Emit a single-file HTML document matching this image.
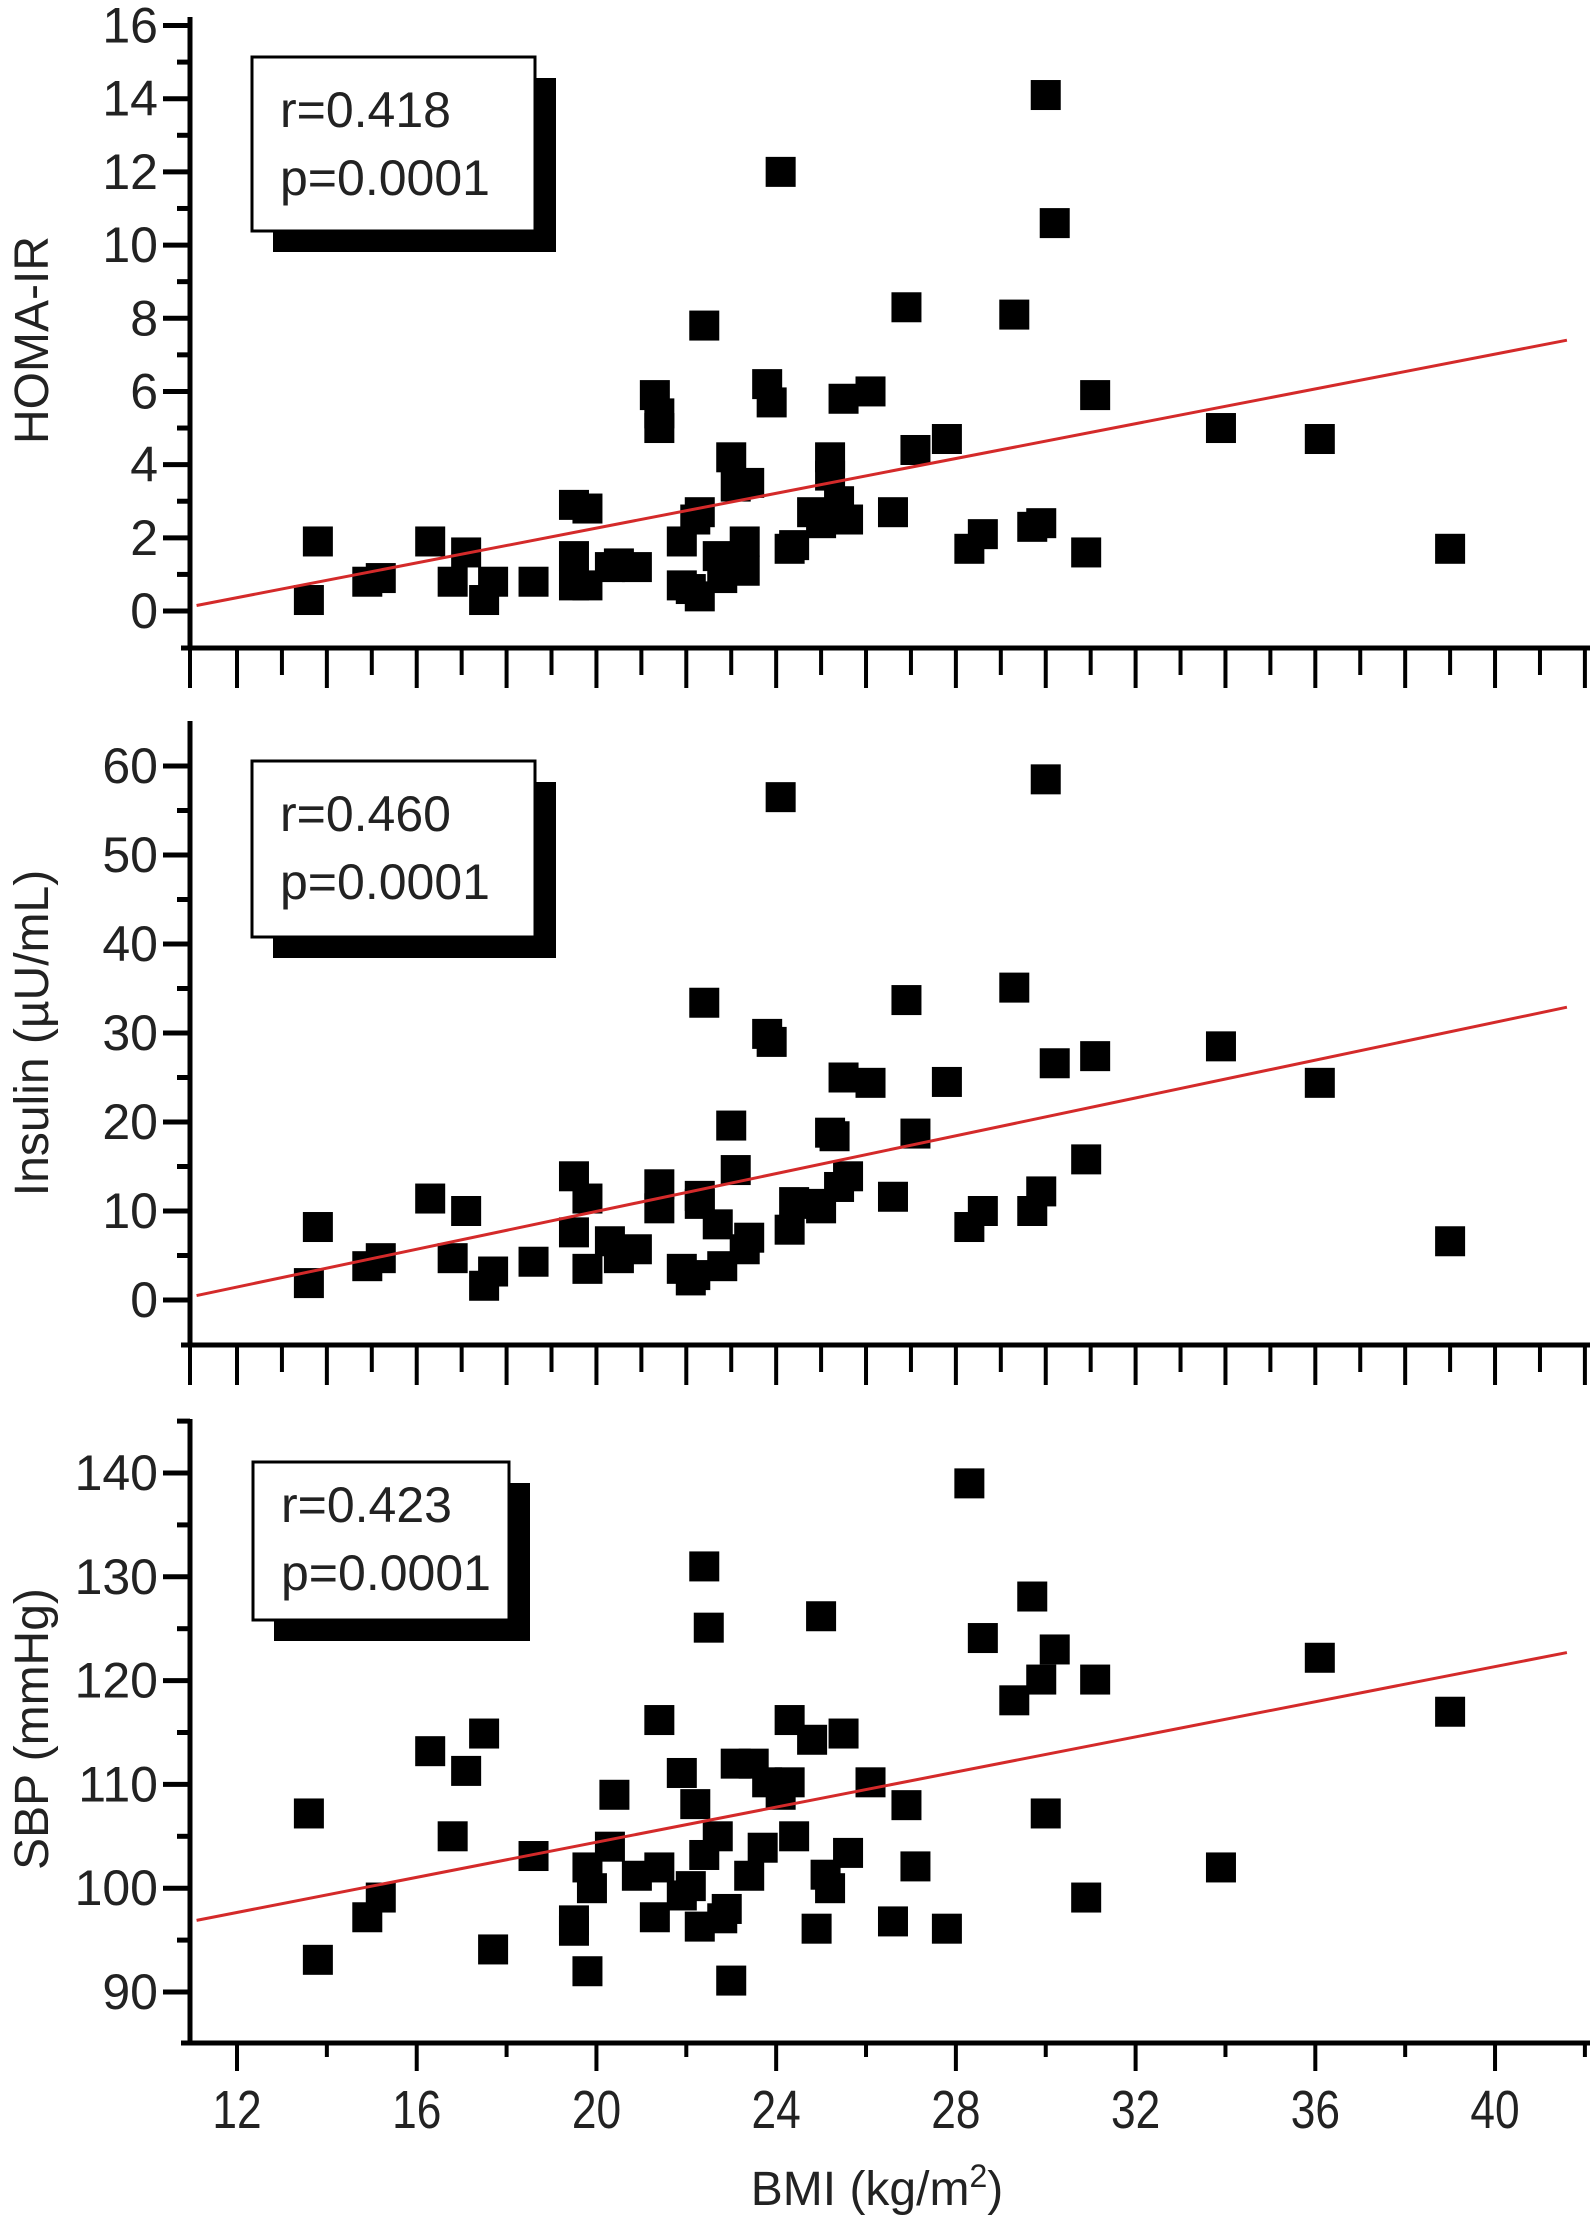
<!DOCTYPE html>
<html><head><meta charset="utf-8"><style>
html,body{margin:0;padding:0;background:#fff}
svg{display:block}
text{font-family:"Liberation Sans",Arial,sans-serif;fill:#222}
</style></head><body>
<svg id="chart" xmlns="http://www.w3.org/2000/svg" width="1590" height="2218" viewBox="0 0 1590 2218">
<text x="877" y="2205" font-size="48" text-anchor="middle">BMI (kg/m<tspan font-size="32" dy="-18">2</tspan><tspan dy="18">)</tspan></text>
</svg>
<script>
// ---- data ----
const homaBMI=[13.8,13.6,14.9,15.2,16.3,16.8,17.1,17.5,17.7,18.6,19.5,19.5,19.5,19.8,19.8,20.3,20.5,20.9,21.3,21.4,21.4,21.9,21.9,22.1,22.2,22.3,22.4,22.3,22.7,22.8,23.0,23.1,23.4,23.3,23.3,23.8,23.9,24.1,24.4,24.3,24.8,25.0,25.2,25.2,25.4,25.5,25.6,26.1,26.6,26.9,27.1,27.8,28.3,28.6,29.3,29.7,29.9,30.0,30.2,30.9,31.1,33.9,36.1,39.0];
const homaVal=[1.9,0.3,0.8,0.9,1.9,0.8,1.6,0.3,0.8,0.8,2.9,1.5,0.7,2.8,0.7,1.2,1.3,1.2,5.9,5.4,5.0,1.9,0.7,0.6,2.5,2.7,7.8,0.4,1.5,0.9,4.2,3.4,3.5,1.1,1.9,6.2,5.7,12.0,1.8,1.7,2.7,2.4,4.2,3.7,3.0,5.8,2.5,6.0,2.7,8.3,4.4,4.7,1.7,2.1,8.1,2.3,2.4,14.1,10.6,1.6,5.9,5.0,4.7,1.7];
const insBMI=[13.8,13.6,14.9,15.2,16.3,16.8,17.1,17.5,17.7,18.6,19.5,19.5,19.8,19.8,20.3,20.5,20.9,21.4,21.4,21.9,22.1,22.2,22.3,22.4,22.3,22.7,22.8,23.0,23.1,23.4,23.3,23.8,23.9,24.1,24.3,24.4,24.8,25.0,25.2,25.3,25.4,25.5,25.6,26.1,26.6,26.9,27.1,27.8,28.3,28.6,29.3,29.7,29.9,30.0,30.2,30.9,31.1,33.9,36.1,39.0];
const insVal=[8.2,1.9,3.8,4.7,11.4,4.7,10.0,1.6,3.2,4.3,13.9,7.6,11.4,3.5,6.6,4.7,5.7,13.0,10.3,3.5,2.2,2.8,10.8,33.4,11.7,8.5,3.8,19.6,14.6,7.0,5.7,29.9,29.0,56.5,7.9,11.0,10.8,10.3,18.8,18.4,12.7,25.0,13.9,24.4,11.6,33.7,18.7,24.5,8.2,10.0,35.1,10.0,12.2,58.5,26.6,15.8,27.4,28.5,24.4,6.6];
const sbpBMI=[13.6,13.8,14.9,15.2,16.3,16.8,17.1,17.5,17.7,18.6,19.5,19.5,19.8,19.8,19.9,20.4,20.3,20.9,21.4,21.3,21.4,21.9,21.9,22.1,22.2,22.3,22.4,22.4,22.5,22.7,22.8,23.0,22.9,23.1,23.4,23.5,23.7,23.8,24.1,24.3,24.4,24.3,24.8,24.9,25.0,25.1,25.2,25.5,25.6,26.1,26.6,26.9,27.1,27.8,28.3,28.6,29.3,29.7,29.9,30.0,30.2,30.9,31.1,33.9,36.1,39.0];
const sbpVal=[107.2,93.1,97.2,99.1,113.2,105,111.3,114.9,94.1,103.1,95.9,96.9,102,92,100,109,104,101.2,116.2,97.2,102,111.1,99.3,100.2,108.1,96.3,103.2,131,125.1,105,97.1,91.1,98,112,101.2,112,103.9,110.2,109,110.2,105,116.2,114.3,96.1,126.2,101.3,100,114.9,103.4,110.2,96.8,108,102.1,96.1,139,124.1,118.1,128.1,120.1,107.2,123,99.1,120.1,102,122.2,117];
const fitX=[11.1,41.6];
const homaFit=[0.15,7.4];
const insFit=[0.5,32.9];
const sbpFit=[96.9,122.7];
const homaTicks=[0,2,4,6,8,10,12,14,16];
const insTicks=[0,10,20,30,40,50,60];
const sbpTicks=[90,100,110,120,130,140];
const xTickLabels=[12,16,20,24,28,32,36,40];

// ---- drawing ----
const NS="http://www.w3.org/2000/svg";
const svg=document.getElementById('chart');
const AX=190;
function X(v){return 237+(v-12)*44.93;}
function mk(tag,attrs,parent){const e=document.createElementNS(NS,tag);for(const k in attrs)e.setAttribute(k,attrs[k]);(parent||svg).appendChild(e);return e;}

function panel(cfg){
  const g=mk('g',{});
  
  
  const Y=v=>cfg.y0px+(v-cfg.y0)*(cfg.y1px-cfg.y0px)/(cfg.y1-cfg.y0);
  const ya=mk('line',{x1:AX,y1:cfg.top,x2:AX,y2:cfg.base+2,stroke:'#000','stroke-width':5},g);
  
  
  const xa=mk('line',{x1:181,y1:cfg.base,x2:1590,y2:cfg.base,stroke:'#000','stroke-width':5},g);
  
  
  const ticks=cfg.ticks, step=ticks[1]-ticks[0];
  for(let i=0;i<ticks.length;i++){
    const v=ticks[i], y=Y(v);
    const t=mk('line',{x1:AX-27,y1:y,x2:AX,y2:y,stroke:'#000','stroke-width':5},g);
    
    
    const lb=mk('text',{x:AX-32,y:y+17,'font-size':50,'text-anchor':'end'},g);
    lb.textContent=v;
    
    
    const mv=v+step/2, my=Y(mv);
    if(my>cfg.top+2){
      const m=mk('line',{x1:AX-13,y1:my,x2:AX,y2:my,stroke:'#000','stroke-width':5},g);
      
      
    }
  }
  if(cfg.bottom){
    for(let v=12;v<=42;v+=2){
      const major=(v%4===0);
      const t=mk('line',{x1:X(v),y1:cfg.base,x2:X(v),y2:cfg.base+(major?28:14),stroke:'#000','stroke-width':4},g);
      
      
    }
    for(const v of xTickLabels){
      const lb=mk('text',{x:0,y:0,'font-size':54,'text-anchor':'middle',transform:`translate(${X(v)},2128) scale(0.82,1)`},g);
      lb.textContent=v;
      
      
    }
  } else {
    const s=mk('line',{x1:AX,y1:cfg.base,x2:AX,y2:cfg.base+40,stroke:'#000','stroke-width':4},g);
    
    
    for(let v=12;v<=42;v+=1){
      const major=(v%2===0);
      const t=mk('line',{x1:X(v),y1:cfg.base,x2:X(v),y2:cfg.base+(major?40:27),stroke:'#000','stroke-width':4},g);
      
      
    }
  }
  const yt=mk('text',{x:0,y:0,'font-size':48,'text-anchor':'middle',transform:`translate(48,${cfg.titleY}) rotate(-90)`},g);
  yt.textContent=cfg.title;
  
  
  for(let i=0;i<cfg.xs.length;i++){
    const p=mk('rect',{x:X(cfg.xs[i])-15,y:Y(cfg.ys[i])-15,width:30,height:30,fill:'#000'},g);
    
    
  }
  const f=mk('line',{x1:X(fitX[0]),y1:Y(cfg.fit[0]),x2:X(fitX[1]),y2:Y(cfg.fit[1]),stroke:'#d42a2a','stroke-width':3},g);
  
  
  const L=cfg.box;
  const sh=mk('rect',{x:L[0]+21,y:L[1]+21,width:L[2]-L[0],height:L[3]-L[1],fill:'#000'},g);
  
  
  const bx=mk('rect',{x:L[0],y:L[1],width:L[2]-L[0],height:L[3]-L[1],fill:'#fff',stroke:'#000','stroke-width':3},g);
  
  
  const r=mk('text',{x:L[0]+28,y:L[1]+L[4],'font-size':50},g);
  r.textContent=cfg.r;
  
  
  const pv=mk('text',{x:L[0]+28,y:L[1]+L[4]+68,'font-size':50},g);
  pv.textContent='p=0.0001';
  
  
}

panel({name:'homa-ir-panel',top:17,base:648,y0:0,y1:16,y0px:611,y1px:25.5,ticks:homaTicks,xs:homaBMI,ys:homaVal,fit:homaFit,title:'HOMA-IR',titleY:340,box:[252,57,535,231,70],r:'r=0.418'});
panel({name:'insulin-panel',top:721,base:1345,y0:0,y1:60,y0px:1300,y1px:766,ticks:insTicks,xs:insBMI,ys:insVal,fit:insFit,title:'Insulin (µU/mL)',titleY:1033,box:[252,761,535,937,70],r:'r=0.460'});
panel({name:'sbp-panel',bottom:true,top:1419,base:2043,y0:90,y1:140,y0px:1992,y1px:1473,ticks:sbpTicks,xs:sbpBMI,ys:sbpVal,fit:sbpFit,title:'SBP (mmHg)',titleY:1729,box:[253,1462,509,1620,60],r:'r=0.423'});
</script>
</body></html>
